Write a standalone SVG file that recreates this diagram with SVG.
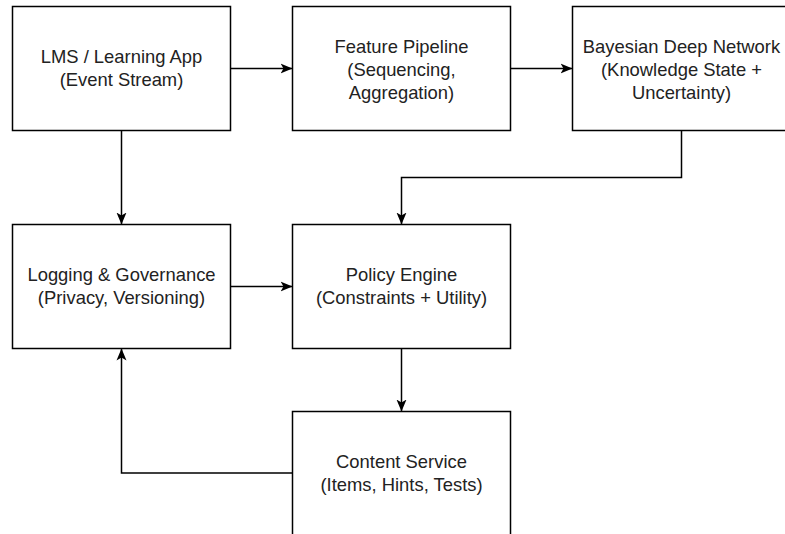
<svg xmlns="http://www.w3.org/2000/svg" width="785" height="534" viewBox="0 0 785 534">
<style>
.box{fill:#ffffff;stroke:#000000;stroke-width:1.5}
.lbl{font-family:"Liberation Sans",Arial,Helvetica,sans-serif;font-size:18.4px;fill:#222222;text-anchor:middle}
.edge{fill:none;stroke:#000000;stroke-width:1.5;marker-end:url(#arrow)}
</style>
<defs>
<marker id="arrow" markerUnits="userSpaceOnUse" markerWidth="13" markerHeight="11" viewBox="0 0 13 11" refX="12" refY="5.5" orient="auto">
<path d="M0,0.5 L12,5.5 L0,10.5 L3,5.5 Z" fill="#000000"/>
</marker>
</defs>
<rect width="785" height="534" fill="#ffffff"/>
<g id="connectors">
<path id="e-lms-feature" class="edge" d="M230.5,68.5 H292.5"/>
<path id="e-feature-bayes" class="edge" d="M510.5,68.5 H572.5"/>
<path id="e-lms-logging" class="edge" d="M121.5,130.5 V224.5"/>
<path id="e-bayes-policy" class="edge" d="M681.5,130.5 V177.5 H401.5 V224.5"/>
<path id="e-logging-policy" class="edge" d="M230.5,286.5 H292.5"/>
<path id="e-policy-content" class="edge" d="M401.5,348.5 V411.5"/>
<path id="e-content-logging" class="edge" d="M292.5,473 H121.5 V348.5"/>
</g>
<g id="lms">
<rect class="box" x="12.5" y="6.5" width="218" height="124"/>
<text class="lbl" x="121.5" y="63">LMS / Learning App</text>
<text class="lbl" x="121.5" y="86">(Event Stream)</text>
</g>
<g id="feature">
<rect class="box" x="292.5" y="6.5" width="218" height="124"/>
<text class="lbl" x="401.5" y="53">Feature Pipeline</text>
<text class="lbl" x="401.5" y="76">(Sequencing,</text>
<text class="lbl" x="401.5" y="99">Aggregation)</text>
</g>
<g id="bayes">
<rect class="box" x="572.5" y="6.5" width="218" height="124"/>
<text class="lbl" x="681.5" y="53">Bayesian Deep Network</text>
<text class="lbl" x="681.5" y="76">(Knowledge State +</text>
<text class="lbl" x="681.5" y="99">Uncertainty)</text>
</g>
<g id="logging">
<rect class="box" x="12.5" y="224.5" width="218" height="124"/>
<text class="lbl" x="121.5" y="281">Logging &amp; Governance</text>
<text class="lbl" x="121.5" y="304">(Privacy, Versioning)</text>
</g>
<g id="policy">
<rect class="box" x="292.5" y="224.5" width="218" height="124"/>
<text class="lbl" x="401.5" y="281">Policy Engine</text>
<text class="lbl" x="401.5" y="304">(Constraints + Utility)</text>
</g>
<g id="content">
<rect class="box" x="292.5" y="411.5" width="218" height="124"/>
<text class="lbl" x="401.5" y="467.5">Content Service</text>
<text class="lbl" x="401.5" y="490.5">(Items, Hints, Tests)</text>
</g>
</svg>
